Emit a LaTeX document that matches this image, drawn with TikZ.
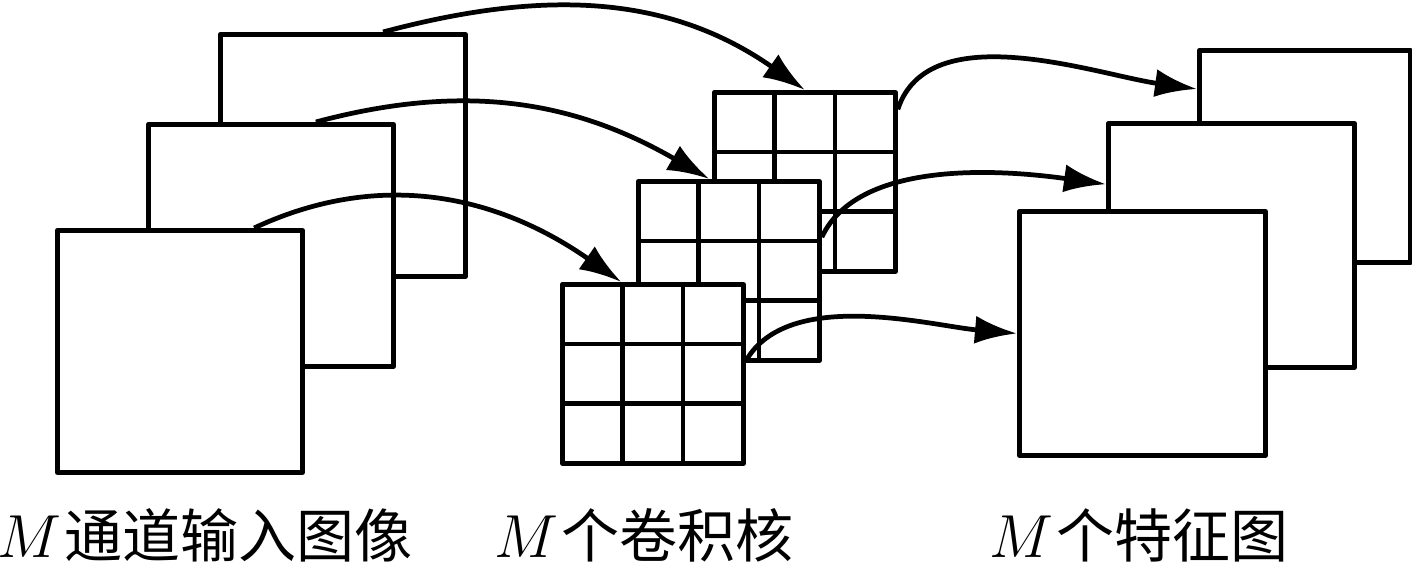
\documentclass[tikz,border=0pt]{standalone}
\usepackage{fontspec}
\newfontfamily\cjk{Noto Sans CJK SC}
\usetikzlibrary{arrows.meta,calc}

\begin{document}
\begin{tikzpicture}[x=0.01cm, y=0.01cm, line width=1.35pt, line join=round,
  >={Latex[length=4.2mm,width=2.8mm]},
  img/.style={draw, fill=white, inner sep=0pt, anchor=north west,
    minimum width=2.45cm, minimum height=2.42cm},
  fmap/.style={img, minimum width=2.46cm, minimum height=2.44cm},
  kern/.style={draw, fill=white, inner sep=0pt, anchor=north west,
    minimum width=1.81cm, minimum height=1.79cm,
    path picture={
      \foreach \t in {1,2}{
        \draw ($(path picture bounding box.north west)!\t/3!(path picture bounding box.north east)$)
          -- ($(path picture bounding box.south west)!\t/3!(path picture bounding box.south east)$);
        \draw ($(path picture bounding box.north west)!\t/3!(path picture bounding box.south west)$)
          -- ($(path picture bounding box.north east)!\t/3!(path picture bounding box.south east)$);
      }}},
  lbl/.style={font=\fontsize{16.5}{20}\selectfont}]

\useasboundingbox (0,0) rectangle (1412,572);

% input images
\node[img] (iB) at (218,540) {};
\node[img] (iM) at (146,450) {};
\node[img] (iF) at (55,344) {};

% kernels
\node[kern] (kB) at (712,482) {};
\node[kern] (kM) at (636,393) {};
\node[kern] (kF) at (560,290) {};

% feature maps
\node[fmap, minimum width=2.11cm, minimum height=2.12cm] (fB) at (1197,524) {};
\node[fmap] (fM) at (1106,451) {};
\node[fmap] (fF) at (1017,363) {};

% arrows
\draw[->] (iB.72) to[out=15,in=145] (kB.north);
\draw[->] (iM.70) to[out=15,in=150] (kM.102);
\draw[->] (iF.59) to[out=25,in=145] (kF.109);
\draw[->] (kB.38) to[out=72,in=172,looseness=0.85] (fB.148);
\draw[->] (kM.20) to[out=65,in=172,looseness=0.8] (fM.154);
\draw[->] (kF.8) to[out=60,in=175,looseness=0.8] (fF.west);

% labels
\node[lbl] (tIn) at (205,37) {$M$\kern1pt\cjk 通道输入图像};
\node[lbl] (tKer) at (644,37) {$M$\kern1pt\cjk 个卷积核};
\node[lbl] (tMap) at (1139,37) {$M$\kern1pt\cjk 个特征图};
\end{tikzpicture}
\end{document}
